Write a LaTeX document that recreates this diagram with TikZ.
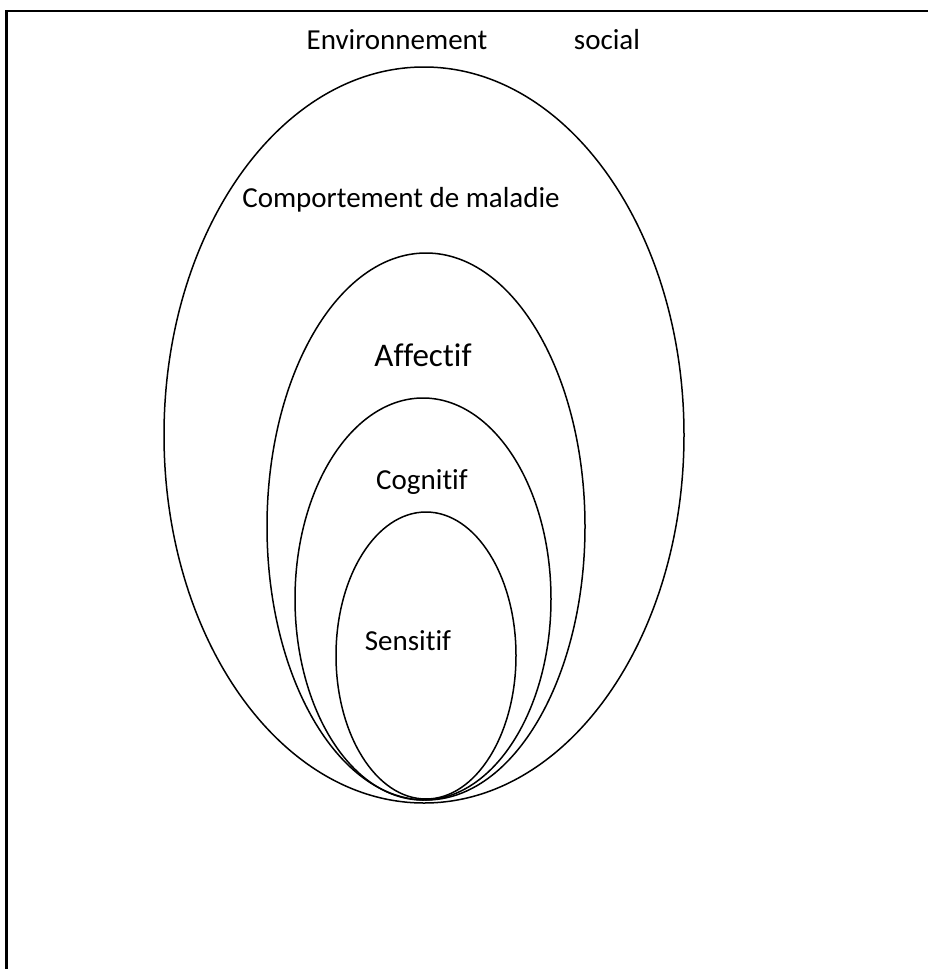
\documentclass[tikz,border=0pt]{standalone}
\usepackage{fontspec}
\setmainfont[Ligatures=NoCommon]{Carlito}
\usepackage{tikz}
\tikzstyle{label}=[inner sep=0pt, anchor=base, font=\fontsize{29}{34}\selectfont]
\tikzstyle{biglabel}=[label, font=\fontsize{33}{38}\selectfont]
\tikzstyle{ring}=[line width=1.5pt, color=black]

\begin{document}
\begin{tikzpicture}[x=1pt, y=1pt, yscale=-1]
					\useasboundingbox (0,0) rectangle (928,969);
					\clip (0,0) rectangle (928,969);
					\draw[line width=2.2pt] (6.5,980) |- (940,11);
					\foreach \cx/\cy/\rx/\ry in {424/435/260/368, 426/526.5/159/273.5, 423/599/128/201, 426/655.5/90/143.5}{
						\draw[ring] (\cx, \cy) ellipse ({\rx} and {\ry});
					}
					\node[label] (env) at (397,49) {Environnement};
					\node[label] (soc) at (607,49) {social};
					\node[label] (comp) at (401,207) {Comportement de maladie};
					\node[biglabel] (aff) at (423,366) {Affectif};
					\node[label] (cog) at (422,489) {Cognitif};
					\node[label] (sens) at (408,650) {Sensitif};
				\end{tikzpicture}
\end{document}
